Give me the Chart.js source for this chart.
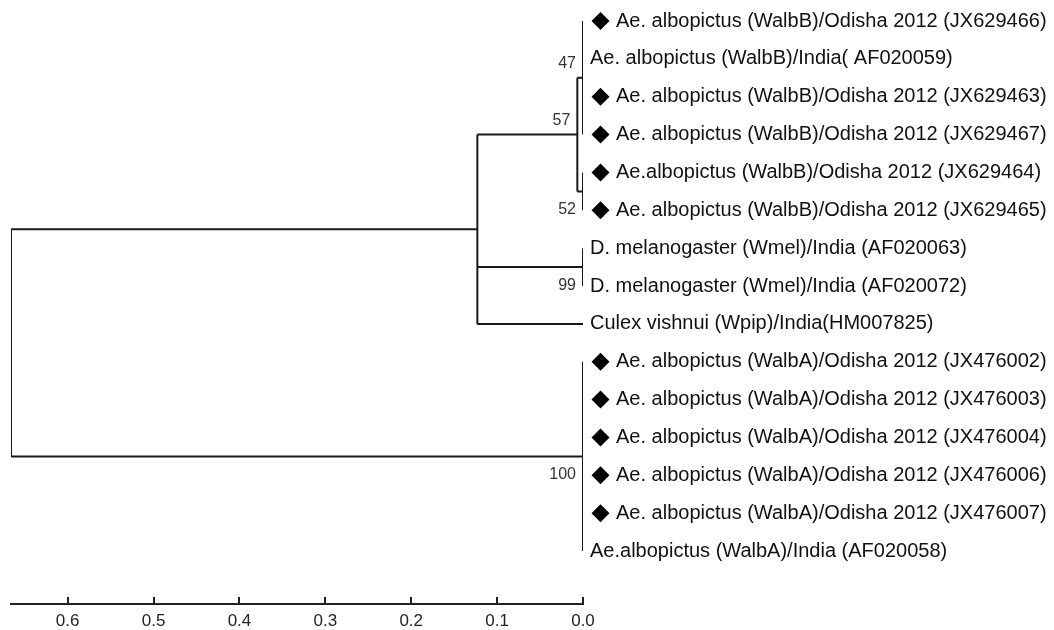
<!DOCTYPE html>
<html><head><meta charset="utf-8">
<script src="https://cdn.jsdelivr.net/npm/chart.js@4/dist/chart.umd.min.js"></script>
<style>html,body{margin:0;padding:0;background:#fff;overflow:hidden}</style>
</head><body>
<canvas id="c" width="1054" height="630"></canvas>
<script>
// ---- data ----
const leafLabels = [
  'Ae. albopictus (WalbB)/Odisha 2012 (JX629466)',
  'Ae. albopictus (WalbB)/India( AF020059)',
  'Ae. albopictus (WalbB)/Odisha 2012 (JX629463)',
  'Ae. albopictus (WalbB)/Odisha 2012 (JX629467)',
  'Ae.albopictus (WalbB)/Odisha 2012 (JX629464)',
  'Ae. albopictus (WalbB)/Odisha 2012 (JX629465)',
  'D. melanogaster (Wmel)/India (AF020063)',
  'D. melanogaster (Wmel)/India (AF020072)',
  'Culex vishnui (Wpip)/India(HM007825)',
  'Ae. albopictus (WalbA)/Odisha 2012 (JX476002)',
  'Ae. albopictus (WalbA)/Odisha 2012 (JX476003)',
  'Ae. albopictus (WalbA)/Odisha 2012 (JX476004)',
  'Ae. albopictus (WalbA)/Odisha 2012 (JX476006)',
  'Ae. albopictus (WalbA)/Odisha 2012 (JX476007)',
  'Ae.albopictus (WalbA)/India (AF020058)'
];
const leafMarked = [true,false,true,true,true,true,false,false,false,true,true,true,true,true,false];
const nodeNames = ['root','A','B','C','D','E','F'];
const nodeHeights = [0.666, 0.123, 0.0066, 0, 0, 0, 0];
const nodeChildren = [
  ['A','F'],
  ['B','E','L8'],
  ['C','D'],
  ['L0','L1','L2','L3'],
  ['L4','L5'],
  ['L6','L7'],
  ['L9','L10','L11','L12','L13','L14']
];
const nodeBootstrap = [null, null, 57, 47, 52, 99, 100];
const bootstrapSide = [null, null, 'above', 'above', 'below', 'below', 'below'];
const scaleTicks = [0.6, 0.5, 0.4, 0.3, 0.2, 0.1, 0.0];

// ---- tree geometry in data units (x = distance, y = row) ----
function pos(name) {
  if (name[0] === 'L') return { x: 0, y: +name.slice(1) };
  const i = nodeNames.indexOf(name);
  const ch = nodeChildren[i];
  const a = pos(ch[0]), b = pos(ch[ch.length - 1]);
  return { x: nodeHeights[i], y: (a.y + b.y) / 2 };
}
const GAP = { x: NaN, y: NaN };
const treePts = [];
nodeNames.forEach((n, i) => {
  const p = pos(n);
  const ch = nodeChildren[i].map(pos);
  treePts.push({ x: p.x, y: ch[0].y }, { x: p.x, y: ch[ch.length - 1].y }, GAP);
  ch.forEach(c => {
    if (c.x !== p.x) treePts.push({ x: p.x, y: c.y }, { x: c.x, y: c.y }, GAP);
  });
});

const FONT = '"Liberation Sans", Arial, sans-serif';

const labelPlugin = {
  id: 'treeLabels',
  afterDatasetsDraw(chart) {
    const { ctx, scales: { x, y } } = chart;
    ctx.save();
    // scale-bar tick marks (upward from the axis line)
    ctx.strokeStyle = '#222';
    ctx.lineWidth = 2;
    scaleTicks.forEach(v => {
      const px = Math.round(x.getPixelForValue(v));
      ctx.beginPath();
      ctx.moveTo(px, x.top + 1);
      ctx.lineTo(px, x.top - 7);
      ctx.stroke();
    });
    const tipX = x.getPixelForValue(0);
    ctx.font = '20px ' + FONT;
    ctx.textBaseline = 'middle';
    ctx.textAlign = 'left';
    leafLabels.forEach((lab, i) => {
      const py = y.getPixelForValue(i);
      let tx = tipX + 7;
      if (leafMarked[i]) {
        const cx = tipX + 17.5;
        ctx.fillStyle = '#000';
        ctx.beginPath();
        ctx.moveTo(cx, py - 9);
        ctx.lineTo(cx + 9, py);
        ctx.lineTo(cx, py + 9);
        ctx.lineTo(cx - 9, py);
        ctx.closePath();
        ctx.fill();
        tx = tipX + 33;
      }
      ctx.fillStyle = '#111';
      ctx.fillText(lab, tx, py);
    });
    ctx.font = '16px ' + FONT;
    ctx.textAlign = 'right';
    ctx.fillStyle = '#333';
    nodeNames.forEach((n, i) => {
      if (nodeBootstrap[i] == null) return;
      const p = pos(n);
      const px = x.getPixelForValue(p.x) - 7;
      const py = y.getPixelForValue(p.y) + (bootstrapSide[i] === 'above' ? -14 : 18);
      ctx.fillText(String(nodeBootstrap[i]), px, py);
    });
    ctx.restore();
  }
};

new Chart(document.getElementById('c'), {
  type: 'scatter',
  data: {
    datasets: [{
      data: treePts,
      showLine: true,
      spanGaps: false,
      borderColor: '#1a1a1a',
      borderWidth: 2,
      pointRadius: 0,
      tension: 0
    }]
  },
  options: {
    responsive: false,
    animation: false,
    layout: { padding: { left: 11, right: 471, top: 0, bottom: 0 } },
    plugins: { legend: { display: false }, tooltip: { enabled: false } },
    scales: {
      x: {
        type: 'linear', reverse: true, min: 0, max: 0.666,
        afterBuildTicks: s => { s.ticks = scaleTicks.map(v => ({ value: v })); },
        afterFit: s => { s.height = 26; },
        grid: { drawOnChartArea: false, drawTicks: false },
        border: { display: true, color: '#222', width: 2 },
        ticks: {
          font: { family: FONT, size: 17, lineHeight: 1 }, color: '#222', padding: 8.5,
          maxRotation: 0, autoSkip: false,
          callback: v => Number(v).toFixed(1)
        }
      },
      y: { display: false, reverse: true, min: -0.5547, max: 15.398 }
    }
  },
  plugins: [labelPlugin]
});
</script>
</body></html>
